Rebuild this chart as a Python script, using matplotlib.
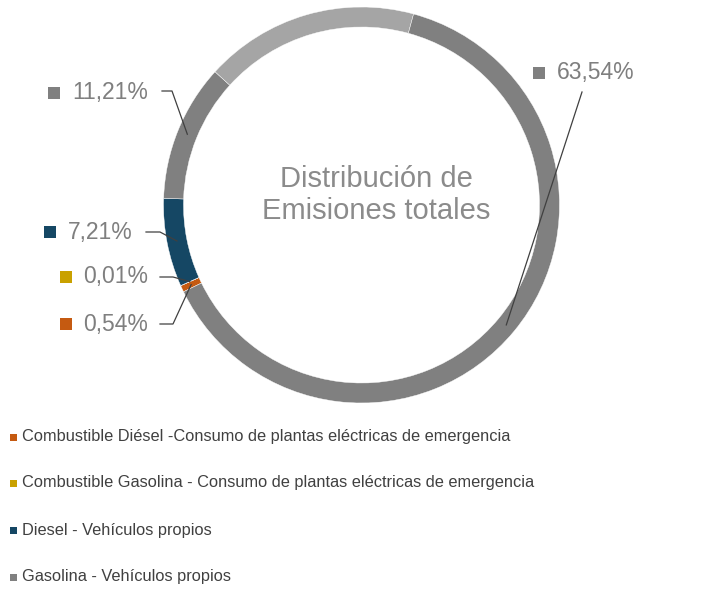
import numpy as np
import matplotlib.pyplot as plt
from matplotlib.patches import Rectangle

W, H = 708, 591

# datos del grafico
categorias = ["Combustible Diésel -Consumo de plantas eléctricas de emergencia",
              "Combustible Gasolina - Consumo de plantas eléctricas de emergencia",
              "Diesel - Vehículos propios",
              "Gasolina - Vehículos propios"]
valores = [0.54, 0.01, 7.21, 11.21, 17.49, 63.54]
etiquetas = ["0,54%", "0,01%", "7,21%", "11,21%", None, "63,54%"]
colores = ["#C55A11", "#C9A100", "#154764", "#808080", "#A5A5A5", "#808080"]

# posicion de cada etiqueta (pixeles): cuadro, texto, codo de la linea guia
pos_etiquetas = {
    "0,54%": ((66, 324), 83, [(160, 324), (173, 324)]),
    "0,01%": ((66, 277), 83, [(160, 277), (173, 277)]),
    "7,21%": ((50, 232), 68, [(146, 232), (160, 232)]),
    "11,21%": ((54, 93), 72, [(162, 91), (172, 91)]),
    "63,54%": ((539, 73), 557, [(582, 92)]),
}

cx, cy, radio, ancho = 361.5, H - 205, 198, 20
gris_txt = "#7F7F7F"

fig = plt.figure(figsize=(W / 100, H / 100), dpi=100)
ax = fig.add_axes([0, 0, 1, 1])

wedges, _ = ax.pie(valores, colors=colores, startangle=-154, counterclock=False,
                   center=(cx, cy), radius=radio,
                   wedgeprops=dict(width=ancho, edgecolor="white", linewidth=0.3))

ax.set_xlim(0, W)
ax.set_ylim(0, H)
ax.set_aspect("equal")
ax.axis("off")

#etiquetas de porcentaje con linea guia
r_medio = radio - ancho / 2
for w, lab, col in zip(wedges, etiquetas, colores):
    if lab is None:
        continue
    ang = np.deg2rad((w.theta1 + w.theta2) / 2)
    ax_, ay_ = cx + r_medio * np.cos(ang), cy + r_medio * np.sin(ang)
    (mx, my), tx, codo = pos_etiquetas[lab]
    xs = [p[0] for p in codo] + [ax_]
    ys = [H - p[1] for p in codo] + [ay_]
    ax.plot(xs, ys, color="#404040", lw=0.9, zorder=3)
    ax.add_patch(Rectangle((mx - 6, H - my - 6), 12, 12, color=col, lw=0))
    ax.text(tx, H - my, lab, fontsize=16.5, color=gris_txt,
            family=["Liberation Sans", "DejaVu Sans"], va="center", ha="left")

# titulo en el centro
ax.text(376, H - 195, "Distribución de\nEmisiones totales", fontsize=21, color="#8B8B8B",
        family=["Liberation Sans", "DejaVu Sans"], ha="center", va="center",
        multialignment="center", linespacing=1.15)

# leyenda
filas_y = [437, 483, 530, 577]
for nombre, col, fy in zip(categorias, colores, filas_y):
    ax.add_patch(Rectangle((10, H - fy - 3.5), 7, 7, color=col, lw=0))
    ax.text(22, H - fy, nombre, fontsize=11.8, color="#404040",
            family=["Liberation Sans", "DejaVu Sans"],
            va="center", ha="left")

fig.savefig("out.png", dpi=100, facecolor="white")
